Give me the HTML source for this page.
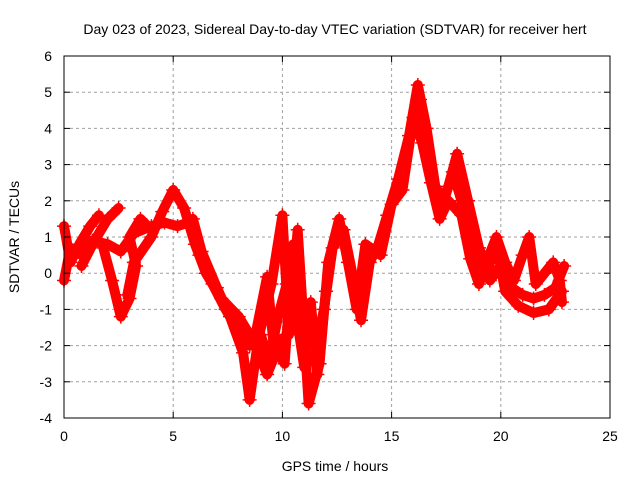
<!DOCTYPE html>
<html><head><meta charset="utf-8"><style>
body{margin:0;background:#fff}
svg{font-family:"Liberation Sans",sans-serif;font-size:14px}
</style></head><body>
<svg id="c" width="640" height="480">
<text x="335" y="34" text-anchor="middle">Day 023 of 2023, Sidereal Day-to-day VTEC variation (SDTVAR) for receiver hert</text>
<text x="335" y="471" text-anchor="middle">GPS time / hours</text>
<text transform="translate(19,237) rotate(-90)" text-anchor="middle">SDTVAR / TECUs</text>
<g id="grid"></g><g id="series"></g>
<rect x="64" y="56" width="546" height="362" fill="none" stroke="#000" stroke-width="1"/>
<g id="ticks"></g>
</svg>
<script>
const xTicks=[0,5,10,15,20,25];
const yTicks=[-4,-3,-2,-1,0,1,2,3,4,5,6];
const seriesA=[[0,-0.2],[0.3,0.7],[0.8,0.5],[1.3,0.9],[2,0.8],[2.6,0.6],[3.2,1.1],[4,1.3],[4.6,1.4],[5.2,1.3],[5.7,1.4],[6.2,0.5],[6.8,-0.3],[7.4,-1.0],[8,-1.6],[8.5,-2.0],[9,-1.7],[9.4,-2.4],[9.8,-1.2],[10.2,-0.3],[10.6,-1.0],[11,-2.6],[11.5,-2.2],[11.9,-1.0],[12.3,0.7],[12.8,1.2],[13.2,0.0],[13.6,-1.3],[14,0.3],[14.4,0.8],[14.8,1.6],[15.3,2.6],[15.8,3.8],[16.2,5.2],[16.6,4.0],[17,2.4],[17.4,2.0],[17.8,2.8],[18.2,2.0],[18.6,1.0],[19,0.3],[19.5,-0.2],[20,0.2],[20.5,-0.4],[21,-0.6],[21.5,-0.7],[22,-0.6],[22.5,-0.4],[22.9,0.2]];
const seriesB=[[0,1.3],[0.3,0.3],[0.7,0.8],[1.2,1.3],[1.6,1.6]];
const seriesC=[[0.8,0.2],[1.4,0.9],[2,1.5],[2.5,1.8]];
const seriesD=[[1.8,0.7],[2.2,-0.2],[2.6,-1.2],[3.0,-0.7],[3.3,0.2],[3.0,1.0],[3.5,1.5],[4,1.2]];
const seriesE=[[2.9,-0.6],[3.2,0.3],[4.0,1.0],[4.5,1.7],[5,2.3],[5.5,1.8],[6,0.8],[6.5,0.0],[7.2,-0.7],[8,-1.2],[8.7,-1.9],[9.3,-2.8],[9.7,-2.2],[10,-1.8]];
const seriesF=[[5.9,1.5],[6.3,0.6],[7,-0.4],[7.6,-1.2],[8.2,-2.2],[8.5,-3.5],[8.9,-1.8],[9.5,-0.3],[10,1.6],[10.3,-1.7],[10.7,1.2],[11.2,-3.6],[11.7,-2.5],[12.1,0.3],[12.6,1.5],[13,0.3],[13.4,-1.0],[13.8,0.8],[14.5,0.5],[15,1.9],[15.5,2.3],[16,4.3],[16.4,3.6],[16.8,2.5],[17.2,1.5],[17.6,2.0],[18.2,1.6],[18.6,0.4],[19,-0.3],[19.4,0.4],[19.8,1.0],[20.2,0.3],[20.6,-0.2],[21,0.5],[21.3,1.0],[21.6,-0.3],[22,0],[22.4,0.3],[22.7,-0.2],[22.8,-0.8]];
const seriesG=[[16.3,4.8],[16.7,3.2],[17.2,1.8],[17.6,2.4],[18,3.3],[18.5,2.0],[19,0.7],[19.4,0.1],[19.8,0.8],[20.2,-0.5],[20.8,-0.9],[21.5,-1.1],[22.2,-1.0],[22.8,-0.5]];
const seriesH=[[8.8,-1.6],[9.3,-0.1],[9.6,-2.0],[10.1,-2.5],[10.5,0.8],[10.9,-1.5],[11.3,-0.8],[11.6,-2.8],[12,-0.5]];
const allSeries=[seriesA,seriesB,seriesC,seriesD,seriesE,seriesF,seriesG,seriesH];
const NS="http://www.w3.org/2000/svg";
const xs=t=>64+t*546/25;
const ys=v=>418-(v+4)*362/10;
const grid=document.getElementById('grid'),ticks=document.getElementById('ticks'),sg=document.getElementById('series');
function mk(tag,a,p){const e=document.createElementNS(NS,tag);for(const k in a)e.setAttribute(k,a[k]);p.appendChild(e);return e;}
xTicks.forEach(t=>{
 const x=xs(t);
 if(t>0&&t<25){const g=mk('line',{x1:x,y1:56,x2:x,y2:418,stroke:'#a0a0a0','stroke-dasharray':'3,3'},grid);
 
 }
 mk('line',{x1:x,y1:418,x2:x,y2:412,stroke:'#000'},ticks);
 mk('line',{x1:x,y1:56,x2:x,y2:62,stroke:'#000'},ticks);
 const l=mk('text',{x:x,y:441,'text-anchor':'middle'},ticks);l.textContent=t;
 
 
});
yTicks.forEach(v=>{
 const y=ys(v);
 if(v>-4&&v<6){const g=mk('line',{x1:64,y1:y,x2:610,y2:y,stroke:'#a0a0a0','stroke-dasharray':'3,3'},grid);
 
 }
 mk('line',{x1:64,y1:y,x2:70,y2:y,stroke:'#000'},ticks);
 mk('line',{x1:610,y1:y,x2:604,y2:y,stroke:'#000'},ticks);
 const l=mk('text',{x:52,y:y+5,'text-anchor':'end'},ticks);l.textContent=v;
 
 
});
allSeries.forEach((s,i)=>{
 const p=mk('polyline',{points:s.map(d=>xs(d[0])+','+ys(d[1])).join(' '),fill:'none',stroke:'#ff0000','stroke-width':10,'stroke-linejoin':'round','stroke-linecap':'round'},sg);
 
 
 s.forEach(d=>{const x=xs(d[0]),y=ys(d[1]);
  const m=mk('path',{d:`M${x-7},${y}H${x+7}M${x},${y-7}V${y+7}`,stroke:'#ff0000','stroke-width':1.5},sg);
  
  });
});
</script>
</body></html>
